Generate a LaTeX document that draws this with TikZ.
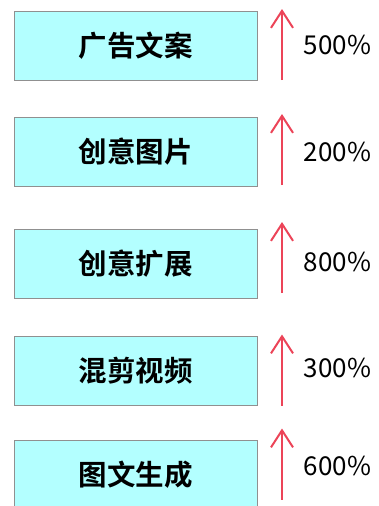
\documentclass[tikz,border=0pt]{standalone}
\usepackage{fontspec}
\usepackage{tikz}
\usetikzlibrary{arrows.meta}
\newfontfamily\cjk{Noto Sans CJK SC}[BoldFont={Noto Sans CJK SC Bold}]
\definecolor{boxfill}{HTML}{B3FFFF}
\definecolor{boxline}{HTML}{909090}
\definecolor{uparrow}{HTML}{EC4458}

\tikzset{
    taskbox/.style = {draw = boxline, line width = 1pt, fill = boxfill,
        minimum width = 243pt, minimum height = 69pt, inner sep = 0pt,
        font = \cjk\bfseries\fontsize{28.5}{32}\selectfont},
    growarrow/.style = {draw = uparrow, line width = 2pt,
        -{Straight Barb[length = 17pt, width = 22pt, line width = 2pt]}},
    pctlabel/.style = {inner sep = 0pt, font = \cjk\fontsize{26}{30}\selectfont}
}

\begin{document}
\begin{tikzpicture}[x = 1pt, y = -1pt]
    \useasboundingbox (0,0) rectangle (378,506);
    \clip (0,0) rectangle (378,506);
    \foreach \by/\ay/\py/\lbl/\pct [count = \i] in
        {45.5/44.5/45/广告文案/500\%, 151.5/149.5/152/创意图片/200\%,
         264/257.5/262/创意扩展/800\%, 371/370/368/混剪视频/300\%,
         474.5/464/466/图文生成/600\%}
    {
        \node[taskbox] (task\i) at (135.5,\by) {\lbl};
        \coordinate (low\i) at (282,\ay+35.5);
        \coordinate (high\i) at (282,\ay-35.5);
        \draw[growarrow] (low\i) -- (high\i);
        \node[pctlabel] (rate\i) at (337.5,\py) {\pct};
    }
\end{tikzpicture}
\end{document}
